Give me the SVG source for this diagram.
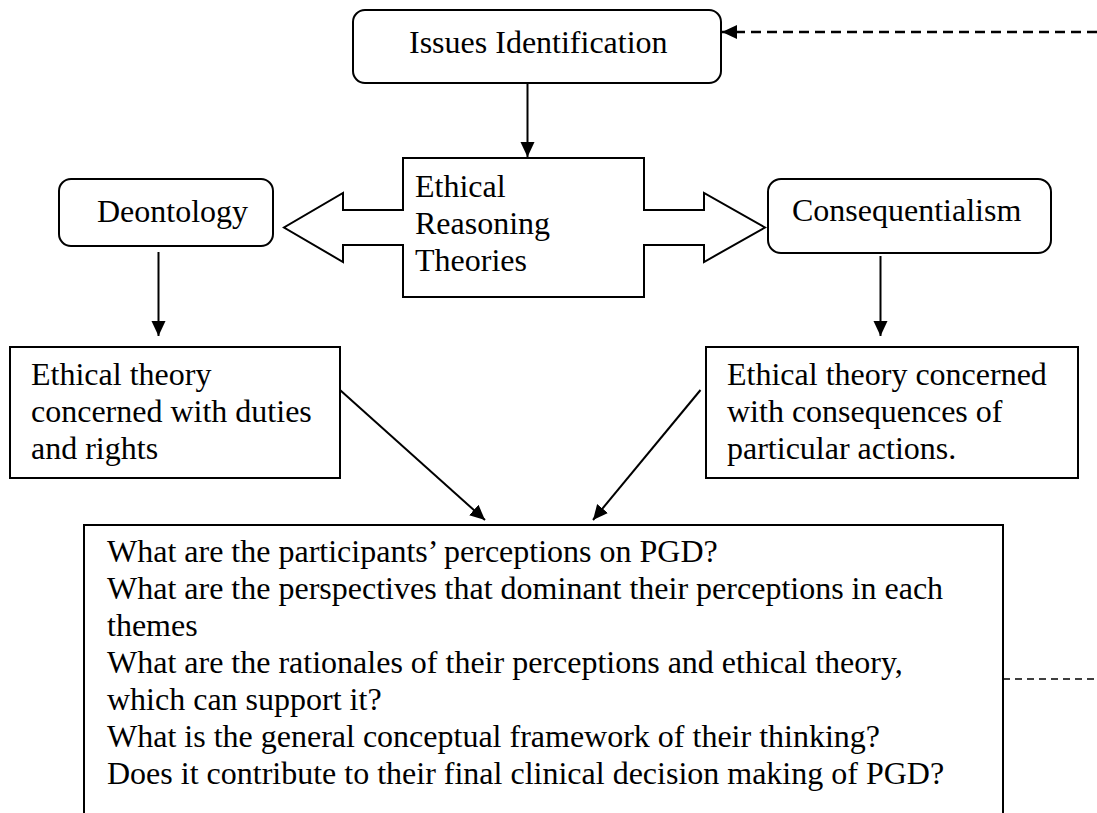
<svg xmlns="http://www.w3.org/2000/svg" width="1097" height="813" viewBox="0 0 1097 813">
  <style>
    .box { fill: #ffffff; stroke: #000000; stroke-width: 2; }
    .txt { font-family: "Liberation Serif", "Times New Roman", serif; font-size: 32px; fill: #000000; }
    .link { stroke: #000000; stroke-width: 2; fill: none; }
    .dash { stroke: #000000; stroke-width: 2.4; stroke-dasharray: 10 6; fill: none; }
    .dash-thin { stroke: #000000; stroke-width: 1.3; stroke-dasharray: 7 5; fill: none; }
  </style>
  <defs>
    <marker id="head" viewBox="0 0 16 16" markerUnits="userSpaceOnUse" markerWidth="16" markerHeight="16" refX="15" refY="8" orient="auto">
      <path d="M0,1 L15,8 L0,15 Z" fill="#000000"/>
    </marker>
  </defs>

  <rect width="1097" height="813" fill="#ffffff"/>

  <!-- connectors -->
  <g id="connectors">
    <line class="dash" x1="1097" y1="32" x2="722" y2="32" marker-end="url(#head)"/>
    <line class="link" x1="527.5" y1="83" x2="527.5" y2="157" marker-end="url(#head)"/>
    <line class="link" x1="158.5" y1="252" x2="158.5" y2="336" marker-end="url(#head)"/>
    <line class="link" x1="880.5" y1="256" x2="880.5" y2="336" marker-end="url(#head)"/>
    <line class="link" x1="340" y1="390" x2="485" y2="520" marker-end="url(#head)"/>
    <line class="link" x1="700.5" y1="390" x2="593" y2="520" marker-end="url(#head)"/>
    <line class="dash-thin" x1="1003" y1="679" x2="1097" y2="679"/>
  </g>

  <!-- top node -->
  <g id="issues">
    <rect class="box" x="353" y="10" width="368" height="73" rx="12" ry="12"/>
    <text class="txt" x="409" y="53">Issues Identification</text>
  </g>

  <!-- central box with double block arrow -->
  <g id="ethical-reasoning">
    <path class="box" d="M403,158 H644 V210 H704 V193 L765,227.5 L704,262 V245 H644 V297 H403 V245 H343 V262 L284,227.5 L343,193 V210 H403 Z"/>
    <text class="txt" x="415" y="197">Ethical</text>
    <text class="txt" x="415" y="234">Reasoning</text>
    <text class="txt" x="415" y="271">Theories</text>
  </g>

  <g id="deontology">
    <rect class="box" x="59" y="179" width="214" height="67" rx="12" ry="12"/>
    <text class="txt" x="97" y="222">Deontology</text>
  </g>

  <g id="consequentialism">
    <rect class="box" x="768" y="179" width="283" height="74" rx="13" ry="13"/>
    <text class="txt" x="792" y="221">Consequentialism</text>
  </g>

  <g id="deontology-desc">
    <rect class="box" x="10" y="347" width="330" height="131"/>
    <text class="txt" x="31" y="385">Ethical theory</text>
    <text class="txt" x="31" y="422">concerned with duties</text>
    <text class="txt" x="31" y="459">and rights</text>
  </g>

  <g id="consequentialism-desc">
    <rect class="box" x="706" y="347" width="372" height="131"/>
    <text class="txt" x="727" y="385">Ethical theory concerned</text>
    <text class="txt" x="727" y="422">with consequences of</text>
    <text class="txt" x="727" y="459">particular actions.</text>
  </g>

  <g id="questions">
    <rect class="box" x="84" y="525" width="919" height="320"/>
    <text class="txt" x="107" y="562">What are the participants’ perceptions on PGD?</text>
    <text class="txt" x="107" y="599">What are the perspectives that dominant their perceptions in each</text>
    <text class="txt" x="107" y="636">themes</text>
    <text class="txt" x="107" y="673">What are the rationales of their perceptions and ethical theory,</text>
    <text class="txt" x="107" y="710">which can support it?</text>
    <text class="txt" x="107" y="747">What is the general conceptual framework of their thinking?</text>
    <text class="txt" x="107" y="784">Does it contribute to their final clinical decision making of PGD?</text>
  </g>
</svg>
